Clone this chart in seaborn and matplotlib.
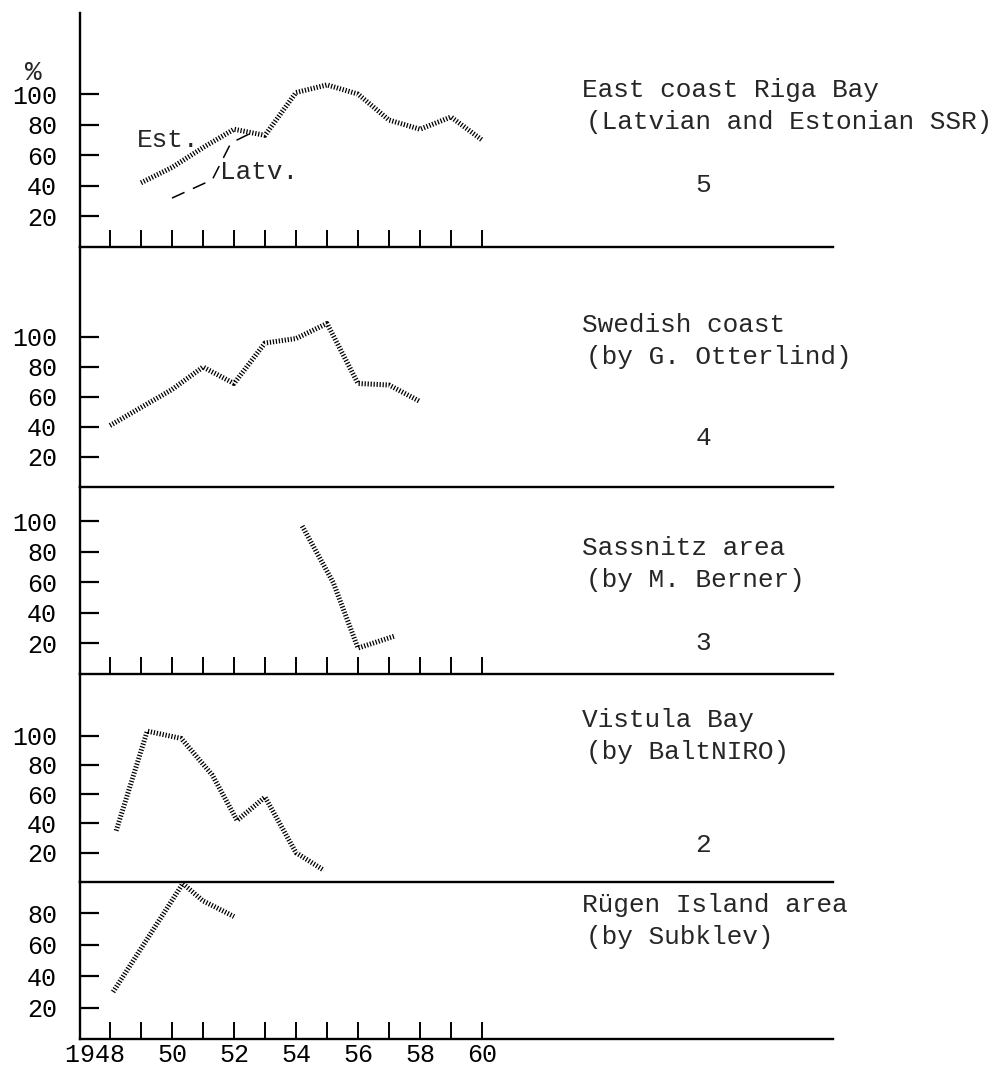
import matplotlib
matplotlib.use('Agg')
import matplotlib.pyplot as plt
import seaborn as sns

# ====================== данные ====================== #
years_est = [1949, 1950, 1951, 1952, 1953, 1954, 1955, 1956, 1957, 1958, 1959, 1960]
est = [42, 52, 65, 77, 73, 101, 106, 100, 83, 77, 85, 70]

years_latv = [1950, 1951.3, 1951.9, 1952.5]
latv = [32, 44, 68, 74]

years_swe = [1948, 1949, 1950, 1951, 1952, 1953, 1954, 1955, 1956, 1957, 1958]
swe = [41, 53, 65, 80, 69, 96, 99, 109, 69, 68, 57]

years_sas = [1954.2, 1955.2, 1956.0, 1957.2]
sas = [97, 60, 17, 25]

years_vis = [1948.2, 1949.2, 1950.3, 1951.3, 1952.1, 1953.0, 1954.0, 1954.9]
vis = [35, 103, 98, 73, 42, 58, 20, 8]

years_rug = [1948.1, 1950.35, 1951.0, 1952.0]
rug = [30, 99, 88, 78]

year_ticks = list(range(1948, 1961))
year_labels = ['1948  ', '50', '52', '54', '56', '58', '60']

titles = [
    ('East coast Riga Bay', '(Latvian and Estonian SSR)', '5'),
    ('Swedish coast', '(by G. Otterlind)', '4'),
    ('Sassnitz area', '(by M. Berner)', '3'),
    ('Vistula Bay', '(by BaltNIRO)', '2'),
    ('Rügen Island area', '(by Subklev)', ''),
]

# ============================== оформление ================================ #
sns.set_style('white')
plt.rcParams['font.family'] = ['Liberation Mono', 'DejaVu Sans Mono']
FS = 18
FS_T = 18.8

W, H = 997, 1070
fig = plt.figure(figsize=(W / 100, H / 100), dpi=100)

# top, bottom (px), ymax, y ticks, year ticks on bottom line
layout = [
    (13, 247, 153, [20, 40, 60, 80, 100], True),
    (247, 487, 160, [20, 40, 60, 80, 100], False),
    (487, 674, 122.6, [20, 40, 60, 80, 100], True),
    (674, 882, 142, [20, 40, 60, 80, 100], False),
    (882, 1039, 100, [20, 40, 60, 80], True),
]
# title positions (px): first line y, second line y, number y
text_pos = [(90, 122, 185), (325, 357, 438), (548, 580, 643), (720, 752, 845), (905, 937, None)]

dotted = dict(color='black', lw=3.6, linestyle=(0, (0.25, 0.35)))

series = [
    [(years_est, est)],
    [(years_swe, swe)],
    [(years_sas, sas)],
    [(years_vis, vis)],
    [(years_rug, rug)],
]

axes = []
for i, (top, bot, ymax, yt, xt) in enumerate(layout):
    ax = fig.add_axes([80 / W, 1 - bot / H, (833 - 80) / W, (bot - top) / H])
    ax.set_facecolor('none')
    for xs, ys in series[i]:
        sns.lineplot(x=xs, y=ys, ax=ax, **dotted)
    ax.set_xlim(1948 - 30 / 31, 1948 + 723 / 31)
    ax.set_ylim(0, ymax)
    for s in ['top', 'right']:
        ax.spines[s].set_visible(False)
    for s in ['left', 'bottom']:
        ax.spines[s].set_linewidth(1.7)
        ax.spines[s].set_color('black')
    ax.set_yticks(yt)
    ax.set_yticklabels([str(v) for v in yt])
    ax.tick_params(axis='y', direction='in', length=14, width=1.6, pad=16.5,
                   labelsize=FS, colors='black', left=True)
    if xt:
        ax.set_xticks(year_ticks)
        ax.tick_params(axis='x', direction='in', length=12, width=1.4,
                       bottom=True, colors='black')
    else:
        ax.set_xticks([])
    ax.set_xticklabels([])
    ax.set_xlabel('')
    ax.set_ylabel('')
    axes.append(ax)

# Latv. dashed line in the top panel
sns.lineplot(x=years_latv, y=latv, ax=axes[0], color='black', lw=1.1,
             linestyle=(0, (9, 6)))

# year labels on the bottom axis
ax = axes[-1]
ax.set_xticks(year_ticks)
ax.set_xticklabels([year_labels[k // 2] if k % 2 == 0 else '' for k in range(13)],
                   fontsize=FS)
ax.tick_params(axis='x', pad=3)

# texts
for (t1, t2, num), (y1, y2, y3) in zip(titles, text_pos):
    fig.text(582 / W, 1 - y1 / H, t1, fontsize=FS_T, va='center', ha='left')
    fig.text(586 / W, 1 - y2 / H, t2, fontsize=FS_T, va='center', ha='left')
    if num:
        fig.text(703 / W, 1 - y3 / H, num, fontsize=FS_T, va='center', ha='center')

fig.text(137 / W, 1 - 140 / H, 'Est.', fontsize=FS_T, va='center', ha='left')
fig.text(220 / W, 1 - 172 / H, 'Latv.', fontsize=FS_T, va='center', ha='left')
fig.text(33 / W, 1 - 73 / H, '%', fontsize=20, va='center', ha='center')

fig.savefig('out.png', dpi=100, facecolor='white')
